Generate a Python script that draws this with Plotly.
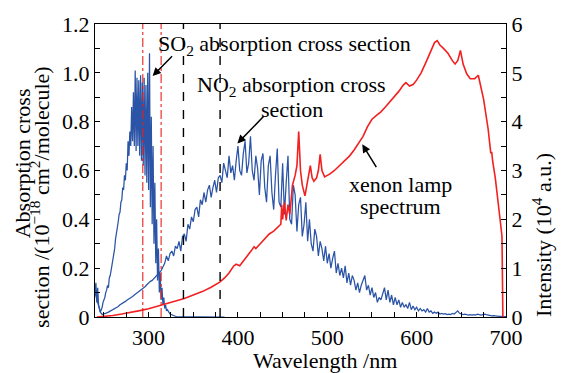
import plotly.graph_objects as go

# ---------------- data ----------------
# SO2 absorption cross section (1e-18 cm^2/molecule), 1 nm grid 240..340 plus tail
so2_wl = list(range(240, 341)) + [360, 385]
so2_xs = [
    0.10, 0.14, 0.06, 0.12, 0.05, 0.03, 0.02, 0.03, 0.04, 0.06,
    0.07, 0.08, 0.10, 0.11, 0.13, 0.12, 0.16, 0.17, 0.19, 0.21,
    0.24, 0.26, 0.28, 0.32, 0.34, 0.37, 0.39, 0.42, 0.43, 0.47,
    0.48, 0.53, 0.52, 0.58, 0.56, 0.63, 0.60, 0.72, 0.66, 0.76,
    0.70, 0.86, 0.72, 0.92, 0.70, 1.01, 0.68, 0.98, 0.70, 0.97,
    0.66, 0.99, 0.64, 0.96, 0.62, 0.98, 0.58, 0.95, 0.55, 1.00,
    0.52, 1.08, 0.45, 0.82, 0.38, 0.70, 0.30, 0.55, 0.22, 0.40,
    0.15, 0.28, 0.10, 0.18, 0.07, 0.12, 0.05, 0.08, 0.035, 0.05,
    0.025, 0.03, 0.02, 0.018, 0.012, 0.01, 0.008, 0.006, 0.005, 0.004,
    0.003, 0.002, 0.002, 0.001, 0.001, 0.0, 0.0, 0.0, 0.0, 0.0, 0.0,
    0.0, 0.0,
]

# NO2 absorption cross section, 2 nm grid 240..700
no2_wl = list(range(240, 701, 2))
no2_xs = [
    # 240-318
    0.10, 0.07, 0.04, 0.02, 0.01, 0.012, 0.015, 0.018, 0.022, 0.026,
    0.03, 0.034, 0.04, 0.043, 0.05, 0.054, 0.06, 0.064, 0.07, 0.074,
    0.08, 0.084, 0.09, 0.096, 0.10, 0.106, 0.11, 0.118, 0.124, 0.132,
    0.14, 0.146, 0.15, 0.158, 0.168, 0.175, 0.18, 0.19, 0.205, 0.22,
    # 320-378
    0.25, 0.23, 0.26, 0.27, 0.25, 0.29, 0.28, 0.31, 0.27, 0.33,
    0.34, 0.31, 0.38, 0.36, 0.41, 0.39, 0.44, 0.45, 0.41, 0.48,
    0.46, 0.51, 0.47, 0.52, 0.54, 0.49, 0.53, 0.56, 0.51, 0.57,
    # 380-440
    0.58, 0.55, 0.63, 0.60, 0.57, 0.66, 0.59, 0.62, 0.56, 0.64,
    0.70, 0.60, 0.58, 0.67, 0.72, 0.59, 0.63, 0.74, 0.60, 0.56,
    0.66, 0.61, 0.50, 0.64, 0.67, 0.53, 0.47, 0.62, 0.66, 0.51,
    0.44,
    # 442-500
    0.58, 0.69, 0.47, 0.45, 0.63, 0.42, 0.55, 0.66, 0.40, 0.38,
    0.54, 0.50, 0.35, 0.46, 0.49, 0.33, 0.38, 0.47, 0.31, 0.40,
    0.30, 0.27, 0.36, 0.33, 0.25, 0.31, 0.28, 0.23, 0.29, 0.22,
    # 502-560
    0.26, 0.20, 0.24, 0.27, 0.18, 0.22, 0.17, 0.20, 0.16, 0.21,
    0.14, 0.18, 0.13, 0.17, 0.15, 0.11, 0.14, 0.10, 0.13, 0.15,
    0.17, 0.11, 0.13, 0.09, 0.12, 0.08, 0.10, 0.06, 0.08, 0.07,
    # 562-620
    0.10, 0.12, 0.07, 0.11, 0.06, 0.09, 0.05, 0.08, 0.05, 0.07,
    0.04, 0.06, 0.04, 0.05, 0.035, 0.06, 0.03, 0.045, 0.03, 0.04,
    0.025, 0.035, 0.025, 0.03, 0.02, 0.035, 0.02, 0.025, 0.015, 0.02,
    # 622-700
    0.015, 0.02, 0.012, 0.015, 0.012, 0.014, 0.01, 0.012, 0.01, 0.015,
    0.012, 0.02, 0.025, 0.015, 0.012, 0.01, 0.012, 0.01, 0.008, 0.01,
    0.008, 0.01, 0.008, 0.012, 0.01, 0.008, 0.01, 0.012, 0.01, 0.008,
    0.006, 0.005, 0.006, 0.004, 0.004, 0.003, 0.003, 0.002, 0.002, 0.002,
]

# Xenon lamp spectrum (10^4 a.u.)
xe_wl = [242, 250, 260, 270, 280, 290, 300, 310, 320, 330,
         340, 350, 360, 370, 380, 385, 390, 395, 398, 402,
         405, 410, 415, 418, 420, 425, 430, 435, 440, 445,
         448, 449, 450, 452, 454, 456, 458, 461, 464, 466,
         468, 470, 472, 475, 478, 481, 483, 485, 488, 490,
         492, 494, 497, 503, 508, 514, 520, 525, 530, 535,
         540, 545, 550, 555, 560, 565, 570, 575, 580, 585,
         588, 592, 596, 600, 605, 610, 615, 620, 623, 626,
         630, 635, 640, 643, 646, 649, 652, 656, 660, 665,
         669, 672, 675, 680, 683, 684, 685, 688, 691, 694,
         695.5, 696.5]
xe_int = [0.0, 0.01, 0.03, 0.06, 0.09, 0.13, 0.17, 0.22, 0.27, 0.32,
          0.38, 0.45, 0.52, 0.61, 0.72, 0.80, 0.90, 1.04, 1.08, 1.05,
          1.12, 1.22, 1.36, 1.44, 1.40, 1.50, 1.60, 1.70, 1.76, 1.84,
          1.90, 2.30, 2.00, 2.35, 1.98, 2.30, 2.10, 2.70, 2.90, 3.10,
          3.80, 3.00, 2.70, 2.48, 2.80, 3.10, 2.85, 2.78, 2.85, 3.00,
          3.33, 3.00, 2.87, 2.93, 3.00, 3.10, 3.20, 3.30, 3.42, 3.55,
          3.70, 3.90, 4.05, 4.13, 4.20, 4.30, 4.40, 4.52, 4.62, 4.75,
          4.80, 4.73, 4.76, 4.85, 5.00, 5.20, 5.42, 5.62, 5.66, 5.57,
          5.50, 5.40, 5.25, 5.18, 5.25, 5.46, 5.18, 4.98, 4.88, 4.88,
          4.95, 4.70, 4.45, 3.85, 3.35, 3.38, 3.20, 2.85, 2.30, 1.90,
          1.65, 0.0]

so2_window = [293.5, 314]
no2_window = [339, 380]

x_ticks = [300, 400, 500, 600, 700]
y_ticks = [0, 0.2, 0.4, 0.6, 0.8, 1.0, 1.2]
y_ticktext = ["0", "0.2", "0.4", "0.6", "0.8", "1.0", "1.2"]
y2_ticks = [0, 1, 2, 3, 4, 5, 6]

# ---------------- style ----------------
FONT = '"Liberation Serif", "DejaVu Serif", "Times New Roman", serif'
FS = 22
BLUE = "#2b54a6"
RED = "#f22020"

fig = go.Figure()
fig.add_trace(go.Scatter(x=no2_wl, y=no2_xs, mode="lines",
                         line=dict(color=BLUE, width=1.25), yaxis="y"))
fig.add_trace(go.Scatter(x=so2_wl, y=so2_xs, mode="lines",
                         line=dict(color=BLUE, width=1.25), yaxis="y"))
fig.add_trace(go.Scatter(x=xe_wl, y=xe_int, mode="lines",
                         line=dict(color=RED, width=1.6), yaxis="y2"))

shapes = []
for xv in so2_window:
    shapes.append(dict(type="line", xref="x", yref="paper", x0=xv, x1=xv,
                       y0=0, y1=1, line=dict(color="#e8201c", width=1.1, dash="dashdot")))
for xv in no2_window:
    shapes.append(dict(type="line", xref="x", yref="paper", x0=xv, x1=xv,
                       y0=0, y1=1, line=dict(color="black", width=1.4, dash="dash")))

tfont = dict(family=FONT, size=FS, color="black")
ann = []
# labels
ann.append(dict(x=307.8, y=1.113, xref="x", yref="y", text="SO<sub>2</sub> absorption cross section",
                showarrow=False, xanchor="left", yanchor="middle", font=tfont))
ann.append(dict(x=460.3, y=0.945, xref="x", yref="y", text="NO<sub>2</sub> absorption cross",
                showarrow=False, xanchor="center", yanchor="middle", font=tfont))
ann.append(dict(x=460.9, y=0.850, xref="x", yref="y", text="section",
                showarrow=False, xanchor="center", yanchor="middle", font=tfont))
ann.append(dict(x=581.6, y=0.541, xref="x", yref="y", text="xenon lamp",
                showarrow=False, xanchor="center", yanchor="middle", font=tfont))
ann.append(dict(x=581.6, y=0.452, xref="x", yref="y", text="spectrum",
                showarrow=False, xanchor="center", yanchor="middle", font=tfont))
# arrows
for (tx, ty, sx, sy) in [(304.5, 0.987, 327.9, 1.074),
                         (399.4, 0.711, 430.7, 0.829),
                         (539.1, 0.707, 555.9, 0.608)]:
    ann.append(dict(x=tx, y=ty, ax=sx, ay=sy, xref="x", yref="y", axref="x", ayref="y",
                    text="", showarrow=True, arrowhead=2, arrowsize=1.1, arrowwidth=1.5,
                    arrowcolor="black"))
# axis titles
ann.append(dict(x=0.5596, y=-0.147, xref="paper", yref="paper", text="Wavelength /nm",
                showarrow=False, xanchor="center", yanchor="middle", font=tfont))
ann.append(dict(x=-0.1776, y=0.5247, xref="paper", yref="paper", text="Absorption cross",
                textangle=-90, showarrow=False, xanchor="center", yanchor="middle", font=tfont))
ann.append(dict(x=-0.1338, y=0.41, xref="paper", yref="paper",
                text="section /(10<sup>\u221218</sup> cm<sup>2</sup>/molecule)",
                textangle=-90, showarrow=False, xanchor="center", yanchor="middle", font=tfont))
ann.append(dict(x=1.0876, y=0.28, xref="paper", yref="paper",
                text="Intensity (10<sup>4</sup> a.u.)",
                textangle=-90, showarrow=False, xanchor="center", yanchor="middle", font=tfont))

axis_common = dict(showline=True, linecolor="black", linewidth=1.3, showgrid=False,
                   zeroline=False, ticks="inside", ticklen=5, tickwidth=1.2, tickcolor="black",
                   tickfont=dict(family=FONT, size=FS, color="black"))

fig.update_layout(
    width=564, height=373,
    margin=dict(l=95, r=58, t=13, b=56),
    paper_bgcolor="white", plot_bgcolor="white",
    showlegend=False,
    font=dict(family=FONT, size=FS, color="black"),
    xaxis=dict(range=[240, 700], tickmode="array", tickvals=x_ticks, mirror=True,
               minor=dict(tickmode="linear", tick0=0, dtick=25, ticks="inside", ticklen=5,
                          tickcolor="black", tickwidth=1.2),
               **axis_common),
    yaxis=dict(range=[0, 1.2], tickmode="array", tickvals=y_ticks, ticktext=y_ticktext,
               minor=dict(tickmode="linear", tick0=0, dtick=0.1, ticks="inside", ticklen=5,
                          tickcolor="black", tickwidth=1.2),
               **axis_common),
    yaxis2=dict(range=[0, 6], overlaying="y", side="right", tickmode="array", tickvals=y2_ticks,
                minor=dict(tickmode="linear", tick0=0, dtick=0.5, ticks="inside", ticklen=5,
                           tickcolor="black", tickwidth=1.2),
                **axis_common),
    shapes=shapes,
    annotations=ann,
)

fig.write_html("out.html")
